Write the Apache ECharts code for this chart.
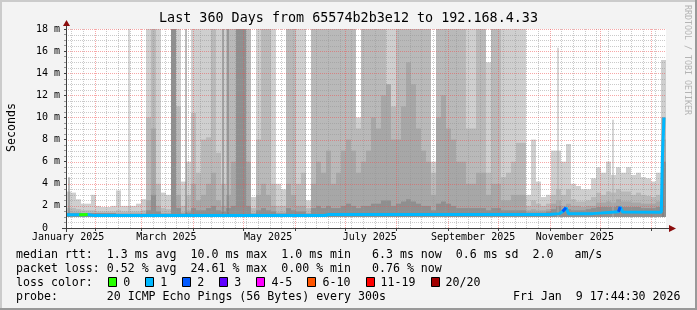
<!DOCTYPE html>
<html>
<head>
<meta charset="utf-8">
<script src="https://cdn.jsdelivr.net/npm/echarts@6.0.0/dist/echarts.min.js"></script>
<style>
html,body{margin:0;padding:0;background:#f3f3f3;}
#chart{width:697px;height:310px;}
</style>
</head>
<body>
<div id="chart"></div>
<script>
// ---------------- data ----------------
const titleText = 'Last 360 Days from 65574b2b3e12 to 192.168.4.33';
const yAxisTitle = 'Seconds';
const watermark = 'RRDTOOL / TOBI OETIKER';
const spanDays = 360;           // days shown (start = Jan 14 2025 17:44:30)
const binWidthDays = 3;         // smoke columns, 3 days each
const smokeFloor = 1.0;         // ms, lower edge of the smoke
const yMax = 18, yMajorStep = 2, yMinorStep = 0.5;

// outer (lightest) smoke extent per 3-day column, ms
const smokeLight = [
  3.3, 3.2, 2.6, 2.2, 2.2, 3.0, 2.0, 1.9, 1.9, 2.0,
  3.4, 2.0, 2.0, 2.0, 2.2, 2.6, 18, 18, 18, 3.2,
  3.0, 18, 18, 4.2, 6.0, 18, 18, 18, 18, 18,
  18, 18, 18, 18, 18, 18, 18, 2.8, 18, 18,
  18, 18, 4.0, 3.5, 18, 18, 18, 18, 2.5, 18,
  18, 18, 18, 18, 18, 18, 18, 18, 10, 18,
  18, 18, 18, 18, 18, 18, 18, 18, 18, 18,
  18, 18, 18, 6.0, 18, 18, 18, 18, 18, 18,
  18, 18, 18, 18, 15, 18, 18, 18, 18, 18,
  18, 18, 3.0, 8.0, 4.2, 2.8, 3.0, 7.0, 7.0, 6.0,
  7.6, 4.0, 3.8, 3.5, 3.5, 4.5, 5.5, 5.0, 6.0, 4.8,
  5.5, 5.0, 5.5, 4.8, 5.0, 4.6, 4.5, 4.2, 5.0, 15.2
];
// middle smoke extent, ms
const smokeMid = [
  1.8, 1.8, 1.7, 1.6, 1.6, 1.6, 1.5, 1.5, 1.5, 1.5,
  1.6, 1.5, 1.5, 1.5, 1.5, 1.6, 10, 18, 4, 1.8,
  1.7, 18, 11, 2.0, 3.0, 10.4, 5, 8, 8.2, 18,
  6.8, 4, 18, 18, 18, 18, 18, 1.8, 8, 18,
  18, 4, 2, 2, 18, 18, 4, 5, 1.8, 18,
  18, 18, 18, 18, 18, 18, 18, 18, 9, 18,
  18, 18, 18, 18, 13, 11, 18, 18, 18, 18,
  18, 18, 18, 5, 18, 18, 18, 18, 18, 18,
  9, 9, 18, 18, 5, 18, 18, 4.6, 5, 6,
  7.7, 7.7, 2.0, 2.5, 2.2, 2.0, 2.2, 3.0, 3.5, 3.0,
  3.5, 2.6, 2.4, 2.4, 2.5, 2.8, 3.2, 3.0, 3.3, 3.2,
  3.5, 3.3, 3.3, 3.0, 3.2, 3.0, 2.9, 2.8, 3.0, 10
];
// darker smoke extent, ms
const smokeDark = [
  1.4, 1.4, 1.4, 1.3, 1.3, 1.3, 1.3, 1.2, 1.2, 1.2,
  1.2, 1.2, 1.2, 1.2, 1.2, 1.2, 2.5, 9, 2, 1.3,
  1.3, 18, 3, 1.4, 1.6, 4, 2.5, 3, 4, 5,
  2.5, 2, 3, 6, 18, 18, 6, 1.3, 3, 4,
  3, 2, 1.4, 1.4, 4, 3, 2, 2, 1.3, 4,
  6, 5, 7, 4, 5, 7, 8, 7, 5, 6,
  7, 10, 9, 12, 13, 8, 8, 11, 15, 13,
  9, 7, 6, 3, 10, 12, 9, 8, 6, 6,
  4, 4, 5, 5, 3, 4, 4, 2.5, 2.5, 3,
  3, 3, 1.6, 1.7, 1.6, 1.6, 1.7, 2.2, 2.5, 2.0,
  2.2, 2.0, 2.0, 1.9, 2.0, 2.0, 2.3, 2.3, 2.4, 2.3,
  2.6, 2.4, 2.4, 2.3, 2.3, 2.2, 2.2, 2.2, 2.4, 8
];
// darkest smoke core (next to the median), ms
const smokeCore = [
  1.35, 1.35, 1.35, 1.35, 1.35, 1.35, 1.35, 1.35, 1.35, 1.35,
  1.3, 1.3, 1.3, 1.3, 1.3, 1.3, 1.6, 3, 1.5, 1.3,
  1.3, 18, 1.8, 1.3, 1.4, 1.8, 1.6, 1.6, 1.8, 2,
  1.6, 1.5, 1.8, 2, 18, 18, 2, 1.3, 1.6, 1.8,
  1.6, 1.5, 1.3, 1.3, 1.8, 1.6, 1.5, 1.5, 1.3, 1.8,
  2, 1.8, 2, 1.8, 1.8, 2, 2.2, 2, 1.8, 2,
  2, 2.2, 2.2, 2.5, 2.5, 2, 2.2, 2.4, 2.6, 2.4,
  2.2, 2, 2, 1.6, 2.2, 2.4, 2.2, 2, 1.8, 1.8,
  1.8, 1.8, 1.8, 1.8, 1.6, 1.8, 1.8, 1.6, 1.6, 1.6,
  1.6, 1.6, 1.4, 1.4, 1.4, 1.4, 1.5, 1.7, 2.0, 1.6,
  1.7, 1.6, 1.6, 1.6, 1.7, 1.8, 1.9, 1.9, 1.9, 1.9,
  2.0, 1.9, 1.9, 1.9, 1.9, 1.8, 1.8, 1.8, 1.9, 6
];
// thin single-column spikes
const lightSpikeDays = [37.8, 295.2, 328.2];
const lightSpikeTops = [18, 16.3, 9.8];
const darkSpikeDays = [1.8, 72.0, 94.2, 97.2, 358.2];
const darkSpikeTops = [4.6, 18, 18, 18, 10.0];

// median rtt (ms) and loss (pings lost of 20)
const medianDays = [0, 8, 8.5, 13, 17, 60, 100, 140, 155, 158, 200, 250, 290, 296, 298, 300, 301.5, 316, 317, 331.5, 332.5, 334, 357.2, 357.8, 358.8];
const medianVals = [1.2, 1.2, 1.22, 1.22, 1.12, 1.12, 1.13, 1.12, 1.13, 1.22, 1.22, 1.23, 1.22, 1.3, 1.5, 1.84, 1.3, 1.3, 1.47, 1.47, 1.9, 1.45, 1.42, 6.3, 10.0];
const medianLoss = [1, 1, 0, 0, 1, 1, 1, 1, 1, 1, 1, 1, 1, 1, 1, 2, 1, 1, 1, 1, 2, 1, 1, 1, 1];

// time axis (days since start)
const monthStartDays = [17.26, 45.26, 76.26, 106.26, 137.26, 167.26, 198.26, 229.26, 259.26, 290.26, 320.26, 351.26];
const firstSaturdayDay = 3.26;
const monthLabelDays = [1.26, 60.26, 121.26, 182.26, 244.26, 305.26];
const monthLabelNames = ['January 2025', 'March 2025', 'May 2025', 'July 2025', 'September 2025', 'November 2025'];

// legend
const lossLegendNames = ['0', '1', '2', '3', '4-5', '6-10', '11-19', '20/20'];
const lossLegendColors = ['#26ff00', '#00b8ff', '#0059ff', '#5e00ff', '#ff00ff', '#ff5500', '#ff0000', '#a10000'];
const statLine1 = 'median rtt:  1.3 ms avg  10.0 ms max  1.0 ms min   6.3 ms now  0.6 ms sd  2.0   am/s';
const statLine2 = 'packet loss: 0.52 % avg  24.61 % max  0.00 % min   0.76 % now';
const lossLabel = 'loss color:';
const probeLine = 'probe:       20 ICMP Echo Pings (56 Bytes) every 300s';
const stampText = 'Fri Jan  9 17:44:30 2026';

// ---------------- chart ----------------
const MONO = '"DejaVu Sans Mono", "Liberation Mono", monospace';
const font = s => s + 'px ' + MONO;
const GRID_MINOR = 'rgba(150,150,150,0.5)';
const GRID_MAJOR = 'rgba(240,80,80,0.5)';
const AXIS_COL = '#404040';

const chart = echarts.init(document.getElementById('chart'), null, {renderer: 'canvas', width: 697, height: 310, devicePixelRatio: 1});

function smokeLayer(values, color) {
  return {
    type: 'custom', silent: true, z: 2, clip: true,
    data: values.map((v, i) => [i * binWidthDays, v]),
    renderItem: function (params, api) {
      const x0 = api.value(0), top = api.value(1);
      const p0 = api.coord([x0, top]);
      const p1 = api.coord([x0 + binWidthDays, smokeFloor]);
      return {type: 'rect', shape: {x: p0[0], y: p0[1], width: p1[0] - p0[0], height: p1[1] - p0[1]},
        style: {fill: color}};
    }
  };
}
function spikeLayer(days, tops, color, w) {
  return {
    type: 'custom', silent: true, z: 3, clip: true,
    data: days.map((d, i) => [d, tops[i]]),
    renderItem: function (params, api) {
      const p0 = api.coord([api.value(0), api.value(1)]);
      const p1 = api.coord([api.value(0), smokeFloor]);
      return {type: 'rect', shape: {x: Math.round(p0[0]) - w / 2, y: p0[1], width: w, height: p1[1] - p0[1]},
        style: {fill: color}};
    }
  };
}
// pixel-snapped dotted grid lines, placed through the axis scales, drawn over the smoke
function gridLayer(values, vertical, color) {
  return {
    type: 'custom', silent: true, z: 5, clip: false,
    data: values.map(v => vertical ? [v, 0] : [0, v]),
    renderItem: function (params, api) {
      const cs = params.coordSys;
      const p = api.coord([api.value(0), api.value(1)]);
      let shape;
      if (vertical) {
        const x = Math.round(p[0]) + 0.5;
        shape = {x1: x, y1: cs.y, x2: x, y2: cs.y + cs.height};
      } else {
        const y = Math.round(p[1]) + 0.5;
        shape = {x1: cs.x, y1: y, x2: cs.x + cs.width, y2: y};
      }
      return {type: 'line', shape: shape, style: {stroke: color, lineWidth: 1, lineDash: [1, 1]}};
    }
  };
}
function lossOverlay(level, color) {
  const n = medianDays.length;
  const data = medianDays.map((d, i) => {
    const on = medianLoss[i] === level || (i + 1 < n && medianLoss[i + 1] === level);
    return on ? [d, medianVals[i]] : [d, null];
  });
  return {type: 'line', data: data, symbol: 'none', connectNulls: false, lineStyle: {width: 3, color: color}, z: 7, silent: true};
}

const weekDays = [];
for (let d = firstSaturdayDay; d < spanDays; d += 7) {
  if (!monthStartDays.some(m => Math.abs(m - d) < 0.01)) weekDays.push(d);
}
const yMinorVals = [], yMajorVals = [];
for (let k = 1; k * yMinorStep <= yMax + 1e-9; k++) {
  const v = k * yMinorStep;
  if (Math.abs(v / yMajorStep - Math.round(v / yMajorStep)) < 1e-9) yMajorVals.push(v); else yMinorVals.push(v);
}

const series = [
  smokeLayer(smokeLight, '#cfcfcf'),
  smokeLayer(smokeMid, '#b9b9b9'),
  smokeLayer(smokeDark, '#a7a7a7'),
  smokeLayer(smokeCore, '#8f8f8f'),
  spikeLayer(lightSpikeDays, lightSpikeTops, '#adadad', 1),
  spikeLayer(darkSpikeDays, darkSpikeTops, '#777777', 1),
  gridLayer(weekDays, true, GRID_MINOR),
  gridLayer(yMinorVals, false, GRID_MINOR),
  gridLayer(monthStartDays, true, GRID_MAJOR),
  gridLayer(yMajorVals, false, GRID_MAJOR),
  {type: 'line', data: medianDays.map((d, i) => [d, medianVals[i]]), symbol: 'none',
    lineStyle: {width: 3, color: lossLegendColors[1]}, z: 6, silent: true},
  lossOverlay(0, lossLegendColors[0]),
  lossOverlay(2, lossLegendColors[2])
];

// static decorations / texts
const g = [];
g.push({type: 'rect', shape: {x: 0, y: 0, width: 697, height: 2}, style: {fill: '#cbcbcb'}, z: 100, silent: true});
g.push({type: 'rect', shape: {x: 0, y: 0, width: 2, height: 310}, style: {fill: '#cbcbcb'}, z: 100, silent: true});
g.push({type: 'rect', shape: {x: 0, y: 308, width: 697, height: 2}, style: {fill: '#999999'}, z: 100, silent: true});
g.push({type: 'rect', shape: {x: 695, y: 0, width: 2, height: 310}, style: {fill: '#999999'}, z: 100, silent: true});
function txt(text, x, y, size, opts) {
  opts = opts || {};
  const align = opts.align || 'left';
  return {type: 'text', x: x, y: y, rotation: opts.rotation || 0, z: 100, silent: true,
    style: {text: text, font: font(size), fill: opts.color || '#000', align: align, textAlign: align,
      verticalAlign: 'middle', textVerticalAlign: 'middle'}};
}
g.push(txt(titleText, 348.5, 19, 13.4, {align: 'center'}));
g.push(txt(yAxisTitle, 11.5, 127.5, 11.6, {align: 'center', rotation: Math.PI / 2}));
g.push(txt(watermark, 687.5, 60, 8.3, {align: 'center', rotation: -Math.PI / 2, color: '#b4b4b4'}));
g.push({type: 'line', shape: {x1: 66.5, y1: 24, x2: 66.5, y2: 232}, style: {stroke: AXIS_COL, lineWidth: 1}, z: 90, silent: true});
g.push({type: 'line', shape: {x1: 62, y1: 228.5, x2: 671, y2: 228.5}, style: {stroke: AXIS_COL, lineWidth: 1}, z: 90, silent: true});
g.push({type: 'polygon', shape: {points: [[63, 26], [66.5, 20], [70, 26]]}, style: {fill: '#8b0d0d'}, z: 91, silent: true});
g.push({type: 'polygon', shape: {points: [[669, 225], [676, 228.5], [669, 232]]}, style: {fill: '#8b0d0d'}, z: 91, silent: true});
const LX = 16, CW = 7.02;
g.push(txt(statLine1, LX, 254.5, 11.6));
g.push(txt(statLine2, LX, 268.5, 11.6));
g.push(txt(lossLabel, LX, 282.5, 11.6));
let sx = 108.3;
lossLegendNames.forEach((name, i) => {
  g.push({type: 'rect', shape: {x: Math.round(sx) + 0.5, y: 277.5, width: 8, height: 9},
    style: {fill: lossLegendColors[i], stroke: '#000', lineWidth: 1}, z: 100, silent: true});
  g.push(txt(name, sx + 15, 282.5, 11.6));
  sx = sx + 15 + name.length * CW + 15;
});
g.push(txt(probeLine, LX, 296.5, 11.6));
g.push(txt(stampText, 680.5, 296.5, 11.6, {align: 'right'}));

chart.setOption({
  animation: false,
  backgroundColor: '#f3f3f3',
  grid: {left: 66, top: 29, width: 600, height: 199, show: true, backgroundColor: '#ffffff', borderWidth: 0, containLabel: false, outerBoundsMode: 'none'},
  xAxis: {
    type: 'value', min: 0, max: spanDays,
    axisLine: {show: false},
    axisTick: {show: true, customValues: monthStartDays, length: 3, lineStyle: {color: AXIS_COL}},
    axisLabel: {show: true, customValues: monthLabelDays, margin: 4, fontFamily: MONO, fontSize: 10, color: '#000',
      formatter: v => { const i = monthLabelDays.findIndex(d => Math.abs(d - v) < 1e-6); return i >= 0 ? monthLabelNames[i] : ''; }},
    splitLine: {show: false}
  },
  yAxis: {
    type: 'value', min: 0, max: yMax, interval: yMajorStep,
    axisLine: {show: false},
    axisTick: {show: true, length: 2, lineStyle: {color: AXIS_COL}},
    minorTick: {show: true, splitNumber: 4, length: 2, lineStyle: {color: '#9a9a9a'}},
    axisLabel: {margin: 6, fontFamily: MONO, fontSize: 10, color: '#000', formatter: v => v === 0 ? '0  ' : v + ' m'},
    splitLine: {show: false},
    minorSplitLine: {show: false}
  },
  series: series,
  graphic: {elements: g}
});
</script>
</body>
</html>
